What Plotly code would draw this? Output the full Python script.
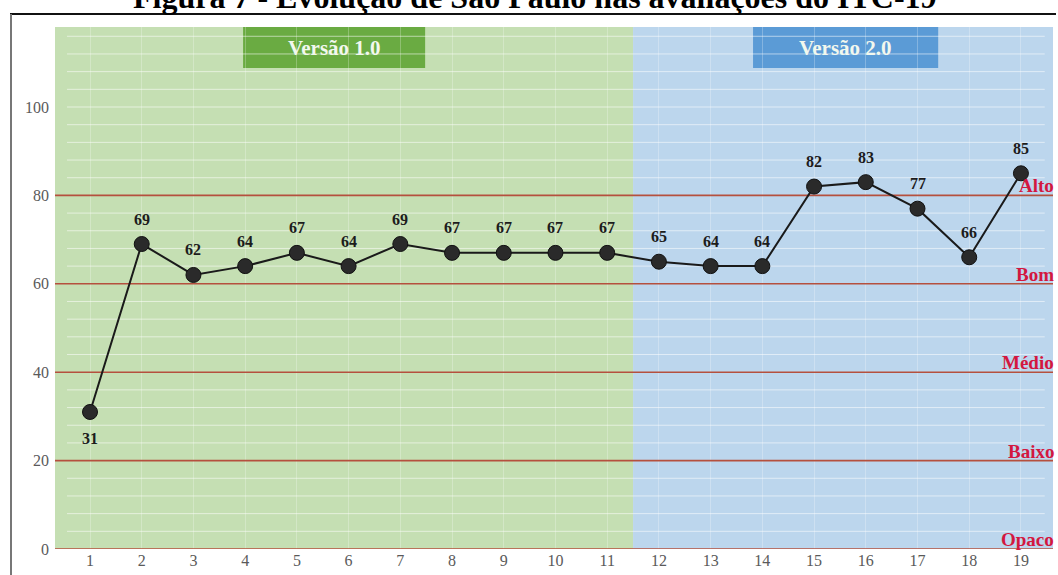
import plotly.graph_objects as go

# ITC-19 evaluation rounds for São Paulo
rounds = list(range(1, 20))
scores = [31, 69, 62, 64, 67, 64, 69, 67, 67, 67, 67, 65, 64, 64, 82, 83, 77, 66, 85]
versions = ["1.0"] * 11 + ["2.0"] * 8

# transparency levels and their lower thresholds
level_names = ["Opaco", "Baixo", "Médio", "Bom", "Alto"]
level_floor = [0, 20, 40, 60, 80]

y_ticks = [0, 20, 40, 60, 80, 100]

W, H = 1058, 575
L, R, T, B = 55, 5, 27, 26
X0, X1 = 0.323, 19.62
Y0, Y1 = 0, 118.1
plot_h = H - T - B


def py(pix):
    """pixel row -> paper y"""
    return (H - B - pix) / plot_h


def px(pix):
    """pixel column -> paper x"""
    return (pix - L) / (W - L - R)


SERIF = "Liberation Serif, Times New Roman, serif"

fig = go.Figure()

shapes = []
annotations = []

# background bands for each methodology version
split = max(r for r, v in zip(rounds, versions) if v == "1.0") + 0.5
bands = [("1.0", X0, split, "#c5dfb3", "#6aab42"),
         ("2.0", split, X1, "#bcd6ed", "#5b9bd6")]
box_pos = {"1.0": (3.96, 7.48), "2.0": (13.82, 17.40)}
for ver, a, b, bg, boxc in bands:
    shapes.append(dict(type="rect", xref="x", yref="y", x0=a, x1=b, y0=Y0, y1=Y1,
                       fillcolor=bg, line=dict(width=0), layer="below"))
    bx0, bx1 = box_pos[ver]
    shapes.append(dict(type="rect", xref="x", yref="y", x0=bx0, x1=bx1, y0=108.8, y1=Y1,
                       fillcolor=boxc, line=dict(width=0), layer="below"))
    annotations.append(dict(x=(bx0 + bx1) / 2, y=(108.8 + Y1) / 2, xref="x", yref="y",
                            text=f"<b>Versão {ver}</b>", showarrow=False,
                            font=dict(family=SERIF, size=21, color="#f2f8ee")))

# faint white minor rules
for v in range(4, 118, 4):
    if v % 20 == 0 and v <= 80:
        continue
    shapes.append(dict(type="line", xref="x", yref="y", x0=0.555, x1=19.46, y0=v, y1=v,
                       line=dict(color="rgba(255,255,255,0.55)", width=1), layer="below"))

# level threshold lines and labels
for name, floor in zip(level_names, level_floor):
    shapes.append(dict(type="line", xref="x", yref="y", x0=X0 - 0.03, x1=X1, y0=floor, y1=floor,
                       line=dict(color="#b5503e", width=1.6), layer="between"))
    annotations.append(dict(x=px(1056), y=floor, xref="paper", yref="y", xanchor="right",
                            yanchor="bottom", yshift=-3, text=f"<b>{name}</b>", showarrow=False,
                            font=dict(family=SERIF, size=19, color="#d3173f")))

# outer frame
shapes.append(dict(type="line", xref="paper", yref="paper", x0=px(10), x1=px(1056),
                   y0=py(14), y1=py(14), line=dict(color="#111111", width=2)))
shapes.append(dict(type="line", xref="paper", yref="paper", x0=px(11), x1=px(11),
                   y0=py(14), y1=py(576), line=dict(color="#777777", width=2)))

# score line
fig.add_trace(go.Scatter(
    x=rounds, y=scores, mode="lines+markers",
    line=dict(color="#1a1a1a", width=2),
    marker=dict(size=15, color="#2a2a2a", line=dict(color="#111111", width=1)),
    cliponaxis=False, hoverinfo="x+y", showlegend=False,
))

# value labels
for r, s in zip(rounds, scores):
    below = s < 40
    annotations.append(dict(x=r, y=s, xref="x", yref="y", text=f"<b>{s}</b>",
                            showarrow=False, yshift=-27 if below else 25,
                            font=dict(family=SERIF, size=16, color="#1c1c1c")))

# title
annotations.append(dict(x=px(535), y=py(-3), xref="paper", yref="paper",
                        text="<b>Figura 7 - Evolução de São Paulo nas avaliações do ITC-19</b>",
                        showarrow=False, yanchor="middle",
                        font=dict(family=SERIF, size=32, color="#000000")))

fig.update_layout(
    width=W, height=H,
    margin=dict(l=L, r=R, t=T, b=B),
    paper_bgcolor="white", plot_bgcolor="white",
    shapes=shapes, annotations=annotations,
    xaxis=dict(range=[X0, X1], tickvals=rounds, ticktext=[str(r) for r in rounds],
               showgrid=True, gridcolor="rgba(255,255,255,0.25)", zeroline=False,
               showline=False, ticks="",
               tickfont=dict(family=SERIF, size=16, color="#5a5a5a")),
    yaxis=dict(range=[Y0, Y1], tickvals=y_ticks, showgrid=False, zeroline=False,
               showline=False, ticks="", ticklabelstandoff=5,
               tickfont=dict(family=SERIF, size=16, color="#5a5a5a")),
)

fig.write_html("out.html")
